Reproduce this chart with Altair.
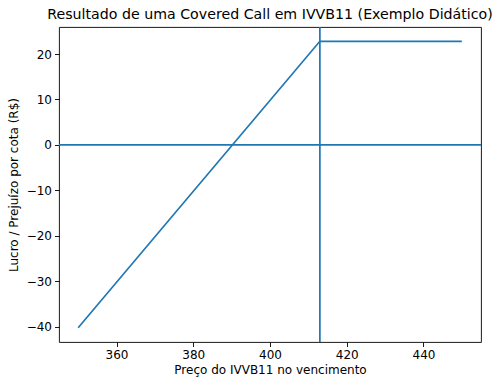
import altair as alt
import pandas as pd

# Data
prices = [350, 413, 450]
profit = [-40.2, 22.8, 22.8]
strike = [413]
zero = [0]
x_ticks = [360, 380, 400, 420, 440]
y_ticks = [-40, -30, -20, -10, 0, 10, 20]

title = "Resultado de uma Covered Call em IVVB11 (Exemplo Didático)"
x_title = "Preço do IVVB11 no vencimento"
y_title = "Lucro / Prejuízo por cota (R$)"

BLUE = "#1f77b4"
FONT = "DejaVu Sans"

df = pd.DataFrame({"preco": prices, "lucro": profit})
df_k = pd.DataFrame({"k": strike})
df_z = pd.DataFrame({"z": zero})

xs = alt.Scale(domain=[345, 455], nice=False, zero=False)
ys = alt.Scale(domain=[-43.35, 25.95], nice=False, zero=False)

x_axis = alt.Axis(title=x_title, values=x_ticks, grid=False, tickSize=4.5,
                  labelPadding=3, titlePadding=4, format="d")
y_axis = alt.Axis(title=y_title, values=y_ticks, grid=False, tickSize=4.5,
                  labelPadding=3, titlePadding=6, format="d")

line = alt.Chart(df).mark_line(color=BLUE, strokeWidth=1.7, clip=True).encode(
    x=alt.X("preco:Q", scale=xs, axis=x_axis),
    y=alt.Y("lucro:Q", scale=ys, axis=y_axis),
)

vline = alt.Chart(df_k).mark_rule(color=BLUE, strokeWidth=1.7).encode(
    x=alt.X("k:Q", scale=xs),
)

hline = alt.Chart(df_z).mark_rule(color=BLUE, strokeWidth=1.7).encode(
    y=alt.Y("z:Q", scale=ys),
)

chart = (
    alt.layer(line, vline, hline)
    .properties(
        width=422,
        height=315,
        title=alt.TitleParams(title, fontSize=14.2, font=FONT, fontWeight="normal",
                              color="black", anchor="middle", offset=4),
        autosize=alt.AutoSizeParams(type="none"),
        padding={"left": 59, "top": 27, "right": 19, "bottom": 45},
        background="white",
    )
    .configure_view(stroke="black", strokeWidth=0.9)
    .configure_axis(
        domain=False,
        labelFont=FONT, titleFont=FONT,
        labelFontSize=12, titleFontSize=12,
        titleFontWeight="normal",
        labelColor="black", titleColor="black",
        tickColor="black", tickWidth=0.9,
    )
)

chart.save("out.html", embed_options={"renderer": "svg", "actions": False})
